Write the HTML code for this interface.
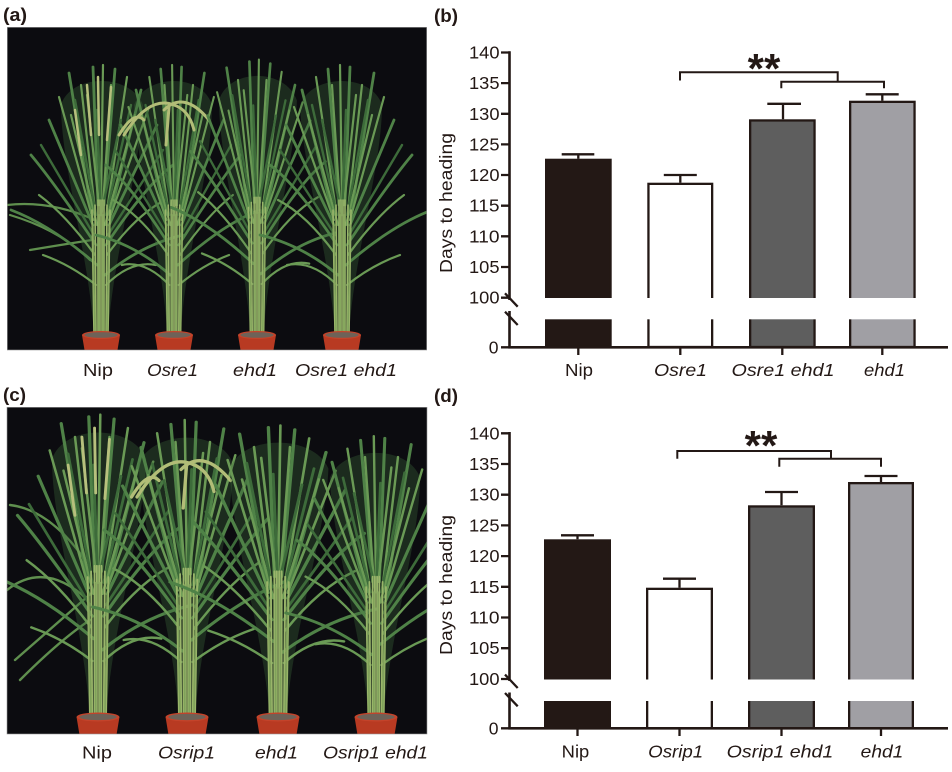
<!DOCTYPE html>
<html><head><meta charset="utf-8">
<style>
html,body{margin:0;padding:0;background:#fff;}
body{width:952px;height:772px;overflow:hidden;}
svg{display:block;}
text{font-family:"Liberation Sans",Arial,sans-serif;fill:#231815;}
</style></head><body>
<svg width="952" height="772" viewBox="0 0 952 772" xmlns="http://www.w3.org/2000/svg">
<defs>
<clipPath id="ca"><rect x="7.3" y="27.3" width="419.4" height="322.7"/></clipPath>
<clipPath id="cc"><rect x="7" y="407.3" width="420" height="326.7"/></clipPath>
<g id="P" fill="none" stroke-linecap="round">
 <path d="M-7 0 C-12 -80 -40 -170 -40 -230 C-30 -262 30 -262 42 -230 C40 -170 12 -80 7 0Z" fill="#3c6638" stroke="none" opacity="0.35"/>
 <g stroke="#4f8247" stroke-width="2.8">
  <path d="M-9 -120 L-32 -262M-3 -130 L-8 -268M3 -130 L14 -266M9 -120 L40 -245M-8 -110 L-52 -215M8 -110 L56 -210M-5 -90 Q-45 -150 -70 -180M5 -90 Q45 -150 72 -170M-4 -70 Q-50 -110 -90 -125M4 -60 Q40 -90 82 -100"/>
 </g>
 <g stroke="#6a9a55" stroke-width="2.2">
  <path d="M-6 -125 L-20 -250M0 -130 L2 -270M6 -125 L26 -258M-8 -115 L-42 -238M8 -115 L48 -228M-2 -130 L-14 -240M2 -130 L10 -250M-6 -80 Q-35 -120 -62 -140M6 -80 Q35 -120 64 -135M-5 -50 Q-30 -70 -58 -80M5 -50 Q30 -75 55 -70M-4 -110 L-30 -220M4 -110 L34 -220"/>
 </g>
 <g stroke="#3d6b3a" stroke-width="2.4">
  <path d="M-5 -120 L-26 -235M5 -120 L30 -230M-7 -100 L-60 -190M7 -100 L62 -185M0 -120 L-4 -225M0 -120 L20 -215"/>
 </g>
 <g stroke="#9ab56a" stroke-width="1.6">
  <path d="M-7 0 L-9 -125M-5 0 L-6 -130M-3 0 L-3 -135M-1 0 L-1 -135M1 0 L1 -135M3 0 L3 -135M5 0 L6 -130M7 0 L9 -125"/>
 </g>
 <g stroke="#7fa25a" stroke-width="1.4">
  <path d="M-6 0 L-8 -110M-2 0 L-2 -120M2 0 L2 -120M6 0 L8 -110"/>
 </g>
</g>
<g id="QN" fill="none" stroke="#b7c07d" stroke-width="2.5" stroke-linecap="round">
 <path d="M-10 -200 L-14 -250M-2 -200 L-3 -258M6 -195 L10 -248M-20 -180 L-26 -225"/>
</g>
<g id="QO" fill="none" stroke="#b2bd77" stroke-width="3" stroke-linecap="round">
 <path d="M-50 -200 Q-25 -240 0 -230 Q15 -225 20 -205M-10 -225 Q10 -245 35 -215M-30 -215 Q-40 -225 -55 -200M-5 -228 L-8 -190"/>
</g>
<g id="pot">
 <path d="M-19 0 L19 0 L16 18 L-16 18Z" fill="#b83a22"/>
 <ellipse cx="0" cy="0" rx="19" ry="4" fill="#c4432a"/>
 <ellipse cx="0" cy="0" rx="16.5" ry="2.8" fill="#6e6258"/>
</g>
</defs>

<!-- Panel a -->
<text x="3" y="21" font-size="18" font-weight="bold" textLength="24" lengthAdjust="spacingAndGlyphs">(a)</text>
<g clip-path="url(#ca)">
 <rect x="7.3" y="27.3" width="419.4" height="322.7" fill="#0c0c10"/>
 <g fill="none" stroke="#5f8f4e" stroke-width="2.2" stroke-linecap="round">
  <path d="M95 220 Q50 200 7 205M90 260 Q60 230 10 215M92 240 Q60 245 30 250"/>
 </g>
 <use href="#P" transform="translate(101,335)"/>
 <use href="#QN" transform="translate(101,335)"/>
 <use href="#P" transform="translate(174,335) scale(-0.95,1)"/>
 <use href="#QO" transform="translate(174,335)"/>
 <use href="#P" transform="translate(257,335) scale(0.95,1.02)"/>
 <use href="#P" transform="translate(342,335) scale(-1,1)"/>
 <use href="#pot" transform="translate(101,335)"/>
 <use href="#pot" transform="translate(174,335)"/>
 <use href="#pot" transform="translate(257,335)"/>
 <use href="#pot" transform="translate(342,335)"/>
</g>
<rect x="7.3" y="27.3" width="419.4" height="322.7" fill="none" stroke="#999" stroke-width="0.6"/>
<text x="98" y="376" font-size="17.5" text-anchor="middle" textLength="30" lengthAdjust="spacingAndGlyphs">Nip</text>
<text x="172.5" y="376" font-size="17.5" font-style="italic" text-anchor="middle" textLength="51" lengthAdjust="spacingAndGlyphs">Osre1</text>
<text x="255" y="376" font-size="17.5" font-style="italic" text-anchor="middle" textLength="44" lengthAdjust="spacingAndGlyphs">ehd1</text>
<text x="346" y="376" font-size="17.5" font-style="italic" text-anchor="middle" textLength="102" lengthAdjust="spacingAndGlyphs">Osre1 ehd1</text>

<!-- Panel c -->
<text x="3" y="401" font-size="18" font-weight="bold" textLength="23" lengthAdjust="spacingAndGlyphs">(c)</text>
<g clip-path="url(#cc)">
 <rect x="7" y="407.3" width="420" height="326.7" fill="#0c0c10"/>
 <g fill="none" stroke="#5f8f4e" stroke-width="2.4" stroke-linecap="round">
  <path d="M88 600 Q45 560 7 590M85 560 Q50 510 10 505M90 620 Q60 640 20 680M95 590 L15 660"/>
 </g>
 <use href="#P" transform="translate(98,717) scale(1.15,1.12)"/>
 <use href="#QN" transform="translate(98,717) scale(1.15,1.12)"/>
 <use href="#P" transform="translate(187,717) scale(-1.15,1.1)"/>
 <use href="#QO" transform="translate(192,717) scale(1.1,1.1)"/>
 <use href="#P" transform="translate(278,717) scale(1.2,1.08)"/>
 <use href="#P" transform="translate(376,717) scale(-1.1,1.04)"/>
 <use href="#pot" transform="translate(98,717) scale(1.13)"/>
 <use href="#pot" transform="translate(187,717) scale(1.13)"/>
 <use href="#pot" transform="translate(278,717) scale(1.13)"/>
 <use href="#pot" transform="translate(376,717) scale(1.13)"/>
</g>
<rect x="7" y="407.3" width="420" height="326.7" fill="none" stroke="#999" stroke-width="0.6"/>
<text x="97" y="758.5" font-size="17.5" text-anchor="middle" textLength="30" lengthAdjust="spacingAndGlyphs">Nip</text>
<text x="186.5" y="758.5" font-size="17.5" font-style="italic" text-anchor="middle" textLength="57" lengthAdjust="spacingAndGlyphs">Osrip1</text>
<text x="276.5" y="758.5" font-size="17.5" font-style="italic" text-anchor="middle" textLength="43" lengthAdjust="spacingAndGlyphs">ehd1</text>
<text x="375.5" y="758.5" font-size="17.5" font-style="italic" text-anchor="middle" textLength="105" lengthAdjust="spacingAndGlyphs">Osrip1 ehd1</text>

<!-- Chart b -->
<text x="434" y="22" font-size="18" font-weight="bold" textLength="24" lengthAdjust="spacingAndGlyphs">(b)</text>
<g stroke="#231815" stroke-width="2.3">
 <rect x="546.15" y="159.85" width="64.4" height="187.15" fill="#231815"/>
 <rect x="648.45" y="183.85" width="63.7" height="163.15" fill="#ffffff"/>
 <rect x="750.15" y="120.45" width="64.4" height="226.55" fill="#5e5e5e"/>
 <rect x="850.15" y="101.85" width="64.4" height="245.15" fill="#a09fa4"/>
 <path d="M578.3 158.7 V154.3 M561.7 154.3 H594.3 M680.3 182.7 V175 M663.8 175 H696.8 M783 119.3 V103.8 M767.3 103.8 H801 M882.3 100.7 V94.3 M865.7 94.3 H898.7" fill="none"/>
</g>
<rect x="530" y="298" width="400" height="21.3" fill="#fff"/>
<g stroke="#231815" fill="none">
 <path d="M509.5 51.3 V300 M509.5 311 V347.3" stroke-width="2.6"/>
 <path d="M508.2 347.3 H948" stroke-width="2.6"/>
 <path d="M501 52.5 H510 M501 83.1 H510 M501 113.8 H510 M501 144.4 H510 M501 175 H510 M501 205.7 H510 M501 236.3 H510 M501 267 H510 M501 297.7 H510 M501 347.3 H510" stroke-width="2.3"/>
 <path d="M578.3 347 V355 M680.3 347 V355 M782.3 347 V355 M882.3 347 V355" stroke-width="2.3"/>
 <path d="M505 293.3 L517.7 306.7 M505 311.7 L517.7 325" stroke-width="2.3"/>
 <path d="M680 80.5 V72.3 H837.7 V81.7 M781.3 88.3 V81.7 H884 V88.3" stroke-width="2"/>
</g>
<text x="764" y="83" font-size="42" font-weight="bold" text-anchor="middle">**</text>
<g font-size="17.5" text-anchor="end">
 <text x="499.5" y="58.5" textLength="30.5" lengthAdjust="spacingAndGlyphs">140</text>
 <text x="499.5" y="89.1" textLength="30.5" lengthAdjust="spacingAndGlyphs">135</text>
 <text x="499.5" y="119.8" textLength="30.5" lengthAdjust="spacingAndGlyphs">130</text>
 <text x="499.5" y="150.4" textLength="30.5" lengthAdjust="spacingAndGlyphs">125</text>
 <text x="499.5" y="181" textLength="30.5" lengthAdjust="spacingAndGlyphs">120</text>
 <text x="499.5" y="211.7" textLength="30.5" lengthAdjust="spacingAndGlyphs">115</text>
 <text x="499.5" y="242.3" textLength="30.5" lengthAdjust="spacingAndGlyphs">110</text>
 <text x="499.5" y="273" textLength="30.5" lengthAdjust="spacingAndGlyphs">105</text>
 <text x="499.5" y="303.7" textLength="30.5" lengthAdjust="spacingAndGlyphs">100</text>
 <text x="498.5" y="353.3">0</text>
</g>
<text transform="translate(452,203) rotate(-90)" font-size="17.5" text-anchor="middle" textLength="140" lengthAdjust="spacingAndGlyphs">Days to heading</text>
<text x="579" y="376" font-size="17.5" text-anchor="middle" textLength="28" lengthAdjust="spacingAndGlyphs">Nip</text>
<text x="680.5" y="376" font-size="17.5" font-style="italic" text-anchor="middle" textLength="53" lengthAdjust="spacingAndGlyphs">Osre1</text>
<text x="783" y="376" font-size="17.5" font-style="italic" text-anchor="middle" textLength="103" lengthAdjust="spacingAndGlyphs">Osre1 ehd1</text>
<text x="884.5" y="376" font-size="17.5" font-style="italic" text-anchor="middle" textLength="41" lengthAdjust="spacingAndGlyphs">ehd1</text>

<!-- Chart d -->
<text x="434" y="402" font-size="18" font-weight="bold" textLength="24" lengthAdjust="spacingAndGlyphs">(d)</text>
<g stroke="#231815" stroke-width="2.3">
 <rect x="545.15" y="540.45" width="64.7" height="187.85" fill="#231815"/>
 <rect x="647.15" y="588.85" width="64.7" height="139.45" fill="#ffffff"/>
 <rect x="749.15" y="506.45" width="64.7" height="221.85" fill="#5e5e5e"/>
 <rect x="849.15" y="483.15" width="63.7" height="245.15" fill="#a09fa4"/>
 <path d="M577.5 539.3 V535.3 M561 535.3 H594 M679.5 587.7 V578.7 M663 578.7 H696 M781.5 505.3 V492 M765 492 H798 M881 482 V476 M864.5 476 H897.5" fill="none"/>
</g>
<rect x="530" y="679.5" width="400" height="21.5" fill="#fff"/>
<g stroke="#231815" fill="none">
 <path d="M509.5 432 V681 M509.5 692.5 V728.3" stroke-width="2.6"/>
 <path d="M508.2 728.3 H948" stroke-width="2.6"/>
 <path d="M501 433.3 H510 M501 464 H510 M501 494.7 H510 M501 525.4 H510 M501 556.1 H510 M501 586.8 H510 M501 617.5 H510 M501 648.2 H510 M501 679 H510 M501 728.3 H510" stroke-width="2.3"/>
 <path d="M577.5 728 V736 M679.5 728 V736 M781.5 728 V736 M881 728 V736" stroke-width="2.3"/>
 <path d="M505 674.6 L517.7 688 M505 693 L517.7 706.3" stroke-width="2.3"/>
 <path d="M677.3 458.7 V451 H831 V458.7 M779.3 466.7 V458.7 H881 V466.7" stroke-width="2"/>
</g>
<text x="761" y="460" font-size="42" font-weight="bold" text-anchor="middle">**</text>
<g font-size="17.5" text-anchor="end">
 <text x="499.5" y="439.3" textLength="30.5" lengthAdjust="spacingAndGlyphs">140</text>
 <text x="499.5" y="470" textLength="30.5" lengthAdjust="spacingAndGlyphs">135</text>
 <text x="499.5" y="500.7" textLength="30.5" lengthAdjust="spacingAndGlyphs">130</text>
 <text x="499.5" y="531.4" textLength="30.5" lengthAdjust="spacingAndGlyphs">125</text>
 <text x="499.5" y="562.1" textLength="30.5" lengthAdjust="spacingAndGlyphs">120</text>
 <text x="499.5" y="592.8" textLength="30.5" lengthAdjust="spacingAndGlyphs">115</text>
 <text x="499.5" y="623.5" textLength="30.5" lengthAdjust="spacingAndGlyphs">110</text>
 <text x="499.5" y="654.2" textLength="30.5" lengthAdjust="spacingAndGlyphs">105</text>
 <text x="499.5" y="685" textLength="30.5" lengthAdjust="spacingAndGlyphs">100</text>
 <text x="498.5" y="734.3">0</text>
</g>
<text transform="translate(452,585) rotate(-90)" font-size="17.5" text-anchor="middle" textLength="140" lengthAdjust="spacingAndGlyphs">Days to heading</text>
<text x="575.5" y="757.5" font-size="17.5" text-anchor="middle" textLength="27.6" lengthAdjust="spacingAndGlyphs">Nip</text>
<text x="675.7" y="757.5" font-size="17.5" font-style="italic" text-anchor="middle" textLength="55" lengthAdjust="spacingAndGlyphs">Osrip1</text>
<text x="780" y="757.5" font-size="17.5" font-style="italic" text-anchor="middle" textLength="106.6" lengthAdjust="spacingAndGlyphs">Osrip1 ehd1</text>
<text x="882" y="757.5" font-size="17.5" font-style="italic" text-anchor="middle" textLength="42.6" lengthAdjust="spacingAndGlyphs">ehd1</text>
</svg>
</body></html>
